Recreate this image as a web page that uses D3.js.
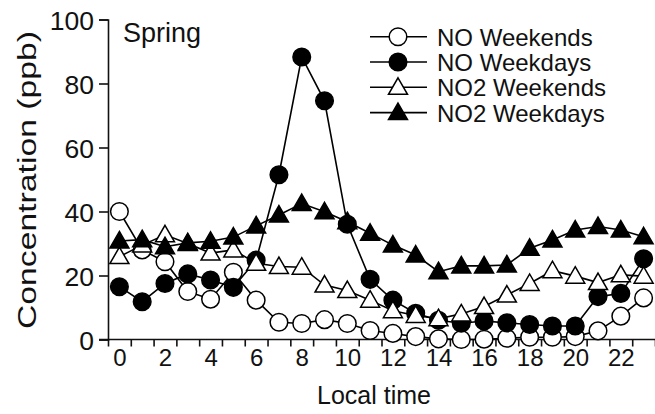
<!DOCTYPE html>
<html>
<head>
<meta charset="utf-8">
<script src="https://cdn.jsdelivr.net/npm/d3@7"></script>
<style>
  body { margin: 0; background: #fff; }
  svg { display: block; font-family: Arial, "Liberation Sans", Helvetica, sans-serif; }
</style>
</head>
<body>
<div id="chart"></div>
<script>
// hourly means, spring
const hours = [0,1,2,3,4,5,6,7,8,9,10,11,12,13,14,15,16,17,18,19,20,21,22,23];
const noWeekends  = [40,28,24.3,15,12.6,21,12.3,5.4,5,6.2,5,2.8,1.9,0.9,0.2,0,0.1,0.4,0.7,0.7,0.9,2.7,7.3,13];
const noWeekdays  = [16.5,11.8,17.5,20.5,18.6,16.3,24.8,51.5,88.3,74.6,36,18.8,12.3,8.2,6,5.1,5.8,5.2,4.7,4.2,4.2,13.4,14.4,25.2];
const no2Weekends = [25.9,29.5,32.7,30,27,28,23.8,22.8,22.6,17,15.3,12.3,9,7.5,6.5,8,10.3,13.9,17.5,21.5,19.8,17.8,20.2,19.8];
const no2Weekdays = [30.8,31.2,29,30.2,30.7,32,35.5,38.9,42.5,39.9,36.8,33.2,29.5,26.4,21.2,23,23,23.3,28.5,31.1,34.2,35.3,34.2,32.1];
const yTicks = [0,20,40,60,80,100];
const xLabels = [0,2,4,6,8,10,12,14,16,18,20,22];

const series = [
  { name: "NO Weekends",   values: noWeekends,  shape: "circle",   filled: false },
  { name: "NO Weekdays",   values: noWeekdays,  shape: "circle",   filled: true },
  { name: "NO2 Weekends",  values: no2Weekends, shape: "triangle", filled: false },
  { name: "NO2 Weekdays",  values: no2Weekdays, shape: "triangle", filled: true }
];

const width = 655, height = 414;
const svg = d3.select("#chart").append("svg")
  .attr("width", width)
  .attr("height", height);

const x = d3.scaleLinear().domain([-0.5, 23.5]).range([108, 655]);
const y = d3.scaleLinear().domain([0, 100]).range([339.5, 19.5]);

// y axis
const yAxis = svg.append("g")
  .attr("transform", "translate(108,0)")
  .call(d3.axisLeft(y).tickValues(yTicks).tickSize(9).tickPadding(5));
yAxis.selectAll("text").attr("font-size", 26.5).attr("fill", "#111").attr("dy", "0.36em");

// x axis: ticks between hours, labels on even hours
const halfHours = hours.map(h => h - 0.5).concat([23.5]);
const xAxis = svg.append("g")
  .attr("transform", "translate(0,339.5)")
  .call(d3.axisBottom(x).tickValues(halfHours).tickSize(7).tickFormat(""));
xAxis.select(".domain").attr("d", "M99,0H655");

const xLab = svg.append("g")
  .attr("transform", "translate(0,339.5)")
  .call(d3.axisBottom(x).tickValues(xLabels).tickSize(0).tickPadding(9));
xLab.select(".domain").remove();
xLab.selectAll("text").attr("font-size", 24).attr("fill", "#111");

svg.selectAll(".domain, .tick line").attr("stroke", "#111").attr("stroke-width", 1.6);

// axis titles
svg.append("text")
  .attr("x", 374).attr("y", 404)
  .attr("text-anchor", "middle")
  .attr("font-size", 25).attr("fill", "#111")
  .text("Local time");

svg.append("text")
  .attr("transform", "translate(36,180) rotate(-90)")
  .attr("text-anchor", "middle")
  .attr("font-size", 25).attr("fill", "#111")
  .attr("textLength", 298).attr("lengthAdjust", "spacingAndGlyphs")
  .text("Concentration (ppb)");

svg.append("text")
  .attr("x", 123).attr("y", 42)
  .attr("font-size", 27).attr("fill", "#111")
  .text("Spring");

function marker(g, s) {
  const fill = s.filled ? "#000" : "#fff";
  if (s.shape === "circle") {
    g.append("circle").attr("r", 8.8)
      .attr("fill", fill).attr("stroke", "#000").attr("stroke-width", 1.5);
  } else {
    g.append("path").attr("d", "M0,-9.5L9.5,7L-9.5,7Z")
      .attr("fill", fill).attr("stroke", "#000").attr("stroke-width", 1.5)
      .attr("stroke-linejoin", "miter");
  }
}

const line = d3.line().x((d, i) => x(hours[i])).y(d => y(d));

series.forEach(s => {
  const g = svg.append("g");
  g.append("path")
    .attr("d", line(s.values))
    .attr("fill", "none").attr("stroke", "#000").attr("stroke-width", 1.6);
  s.values.forEach((v, i) => {
    const m = g.append("g").attr("transform", `translate(${x(hours[i])},${y(v)})`);
    marker(m, s);
  });
});

// legend
const legend = svg.append("g");
series.forEach((s, i) => {
  const cy = 36.7 + i * 25.3;
  legend.append("line")
    .attr("x1", 370).attr("x2", 427).attr("y1", cy).attr("y2", cy)
    .attr("stroke", "#000").attr("stroke-width", 1.6);
  const m = legend.append("g").attr("transform", `translate(398,${cy})`);
  marker(m, s);
  legend.append("text")
    .attr("x", 437).attr("y", cy + 9)
    .attr("font-size", 24).attr("fill", "#111")
    .text(s.name);
});
</script>
</body>
</html>
